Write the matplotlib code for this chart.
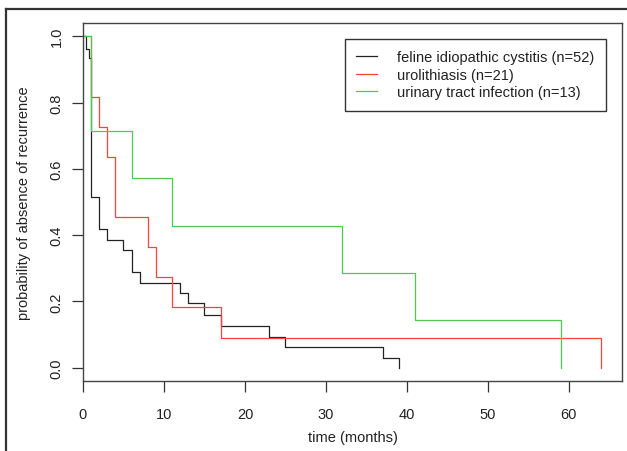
import matplotlib
matplotlib.use('Agg')
import matplotlib.pyplot as plt
from matplotlib.lines import Line2D

plt.rcParams['font.family'] = ['Liberation Sans', 'DejaVu Sans']

# Kaplan-Meier estimates
fic_time = [0, 0.4, 0.7, 1, 2, 3, 5, 6, 7, 12, 13, 15, 17, 23, 25, 37, 39]
fic_surv = [1.0, 0.962, 0.933, 0.514, 0.420, 0.385, 0.354, 0.290, 0.257,
            0.225, 0.194, 0.160, 0.127, 0.094, 0.063, 0.030, 0.0]

uro_time = [0, 1, 2, 3, 4, 8, 9, 11, 17, 64]
uro_surv = [1.0, 0.818, 0.727, 0.636, 0.455, 0.364, 0.273, 0.182, 0.091, 0.0]

uti_time = [0, 1, 6, 11, 32, 41, 59]
uti_surv = [1.0, 0.714, 0.571, 0.429, 0.286, 0.143, 0.0]

labels = ["feline idiopathic cystitis (n=52)",
          "urolithiasis (n=21)",
          "urinary tract infection (n=13)"]
x_ticks = [0, 10, 20, 30, 40, 50, 60]
y_ticks = [0.0, 0.2, 0.4, 0.6, 0.8, 1.0]
y_tick_labels = ["0.0", "0.2", "0.4", "0.6", "0.8", "1.0"]

W, H = 627, 452
fig = plt.figure(figsize=(W / 100, H / 100), dpi=100)
ax = fig.add_axes([83 / W, 70 / H, 539 / W, 358 / H])

ax.step(fic_time, fic_surv, where='post', color='#222222', lw=0.9, label=labels[0])
ax.step(uro_time, uro_surv, where='post', color='#ff4040', lw=0.9, label=labels[1])
ax.step(uti_time, uti_surv, where='post', color='#4ccc4c', lw=0.9, label=labels[2])

ax.set_xlim(0, 66.56)
ax.set_ylim(-0.04, 1.04)
ax.set_xticks(x_ticks)
ax.set_yticks(y_ticks)
ax.set_yticklabels(y_tick_labels, rotation=90, va='center')
ax.tick_params(axis='both', direction='out', length=8, width=0.9,
               color='#333333', labelsize=10.5, labelcolor='#222222')
ax.tick_params(axis='x', pad=10.5)
ax.tick_params(axis='y', pad=6)
for s in ax.spines.values():
    s.set_color('#444444')
    s.set_linewidth(1.0)

ax.set_xlabel("time (months)", fontsize=10.5, color='#222222', labelpad=7)
ax.set_ylabel("probability of absence of recurrence", fontsize=10.5,
              color='#222222', labelpad=13)

leg = ax.legend(loc='upper right', bbox_to_anchor=(605.5 / W, 1 - 39.6 / H),
                bbox_transform=fig.transFigure, borderaxespad=0,
                fontsize=10.5, frameon=True, fancybox=False, framealpha=1,
                borderpad=0.78, handlelength=1.4, handletextpad=1.37,
                labelspacing=0.25)
leg.get_frame().set_edgecolor('#333333')
leg.get_frame().set_linewidth(1.0)
for t in leg.get_texts():
    t.set_color('#222222')

# outer frame around the figure (left and top edges)
fig.add_artist(Line2D([6 / W, 6 / W], [0, 1 - 10 / H], transform=fig.transFigure,
                      color='#333333', lw=1.6))
fig.add_artist(Line2D([6 / W, 1], [1 - 10 / H, 1 - 10 / H], transform=fig.transFigure,
                      color='#333333', lw=1.6))

plt.savefig("out.png", dpi=100)
